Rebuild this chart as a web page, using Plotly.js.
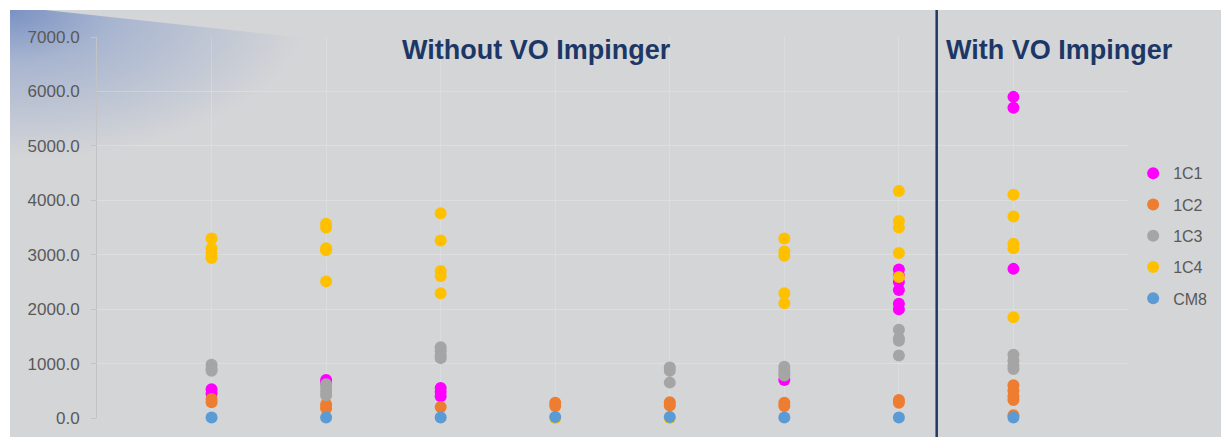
<!DOCTYPE html>
<html>
<head>
<meta charset="utf-8">
<script src="https://cdn.plot.ly/plotly-3.0.1.min.js"></script>
<style>
  html, body { margin:0; padding:0; background:#ffffff; width:1221px; height:437px; overflow:hidden; }
  #frame { position:absolute; left:10px; top:10px; width:1211px; height:427px; background:#d4d5d7; overflow:hidden; }
  #wedge { position:absolute; left:0; top:0; width:300px; height:160px;
    clip-path: polygon(0 0, 35px 0, 295px 28px, 295px 160px, 0 160px);
    background: radial-gradient(ellipse 300px 150px at 0 0, rgba(118,142,194,0.95) 0%, rgba(150,168,205,0.7) 35%, rgba(212,213,215,0) 100%); }
  #chart { position:absolute; left:0; top:0; width:1211px; height:427px; }
</style>
</head>
<body>
<div id="frame"><div id="wedge"></div><div id="chart"></div></div>
<script>
// Categories (8 sample positions; no axis labels shown)
const categories = [1, 2, 3, 4, 5, 6, 7, 8];
const seriesNames = ["1C1", "1C2", "1C3", "1C4", "CM8"];

// Values per category for each series
const v1C1 = [[530, 450], [700, 650], [550, 480, 400], [], [], [700], [2730, 2620, 2500, 2350, 2100, 2000], [5900, 5700, 2740]];
const v1C2 = [[350, 290], [250, 180], [200], [280, 220], [290, 230], [280, 220], [330, 280], [600, 500, 400, 330, 50]];
const v1C3 = [[980, 900, 870], [620, 550, 480, 420], [1300, 1230, 1150, 1100], [], [930, 870, 650], [940, 880, 820, 780], [1620, 1460, 1420, 1150], [1160, 1050, 960, 900]];
const v1C4 = [[3300, 3120, 3020, 2940], [3570, 3500, 3120, 3080, 2510], [3760, 3260, 2700, 2610, 2290], [0], [0], [3300, 3060, 2980, 2290, 2110], [4170, 3620, 3500, 3030, 2590], [4100, 3700, 3200, 3120, 1850]];
const vCM8 = [[10], [10], [10], [20], [20], [10], [10], [10]];

const yTicks = [0, 1000, 2000, 3000, 4000, 5000, 6000, 7000];
const groupTitles = ["Without VO Impinger", "With VO Impinger"];
const groupTitleX = [3.84, 8.40];
const dividerX = 7.33;

const colors = ["#FF00FF", "#ED7D31", "#A5A5A5", "#FFC000", "#5B9BD5"];
const allValues = [v1C1, v1C2, v1C3, v1C4, vCM8];

const traces = allValues.map((vals, i) => {
  const x = [], y = [];
  vals.forEach((arr, c) => arr.forEach(v => { x.push(categories[c]); y.push(v); }));
  return {
    type: "scatter", mode: "markers", name: seriesNames[i],
    x: x, y: y, legendgroup: seriesNames[i],
    marker: { color: colors[i], size: 12 },
    cliponaxis: false, hoverinfo: "x+y"
  };
});

const layout = {
  width: 1211, height: 427,
  paper_bgcolor: "rgba(0,0,0,0)", plot_bgcolor: "rgba(0,0,0,0)",
  margin: { l: 87, r: 93, t: 27, b: 19, autoexpand: false },
  font: { family: "Liberation Sans, Arial, sans-serif", color: "#595959" },
  xaxis: {
    range: [0, 9], tickvals: categories, showticklabels: false,
    showgrid: true, gridcolor: "rgba(255,255,255,0.18)", gridwidth: 1,
    zeroline: false, showline: false, ticks: ""
  },
  yaxis: {
    range: [0, 7000], tickvals: yTicks, tickformat: ".1f",
    tickfont: { size: 17, color: "#595959" },
    showgrid: true, gridcolor: "rgba(255,255,255,0.22)", gridwidth: 1,
    zeroline: false, showline: true, linecolor: "#c2c3c5", linewidth: 1,
    ticks: "outside", ticklen: 5, tickcolor: "#c2c3c5", ticklabelstandoff: 8
  },
  showlegend: true,
  legend: {
    x: 1.005, xanchor: "left", y: 0.687, yanchor: "top",
    font: { size: 16, color: "#595959" },
    bgcolor: "rgba(0,0,0,0)", traceorder: "grouped", tracegroupgap: 7.5,
    itemclick: false
  },
  shapes: [{
    type: "line", xref: "x", yref: "paper", x0: dividerX, x1: dividerX, y0: -0.06, y1: 1.08,
    line: { color: "#1F3864", width: 2.5 }
  }],
  annotations: groupTitles.map((t, i) => ({
    text: t, xref: "x", yref: "paper", x: groupTitleX[i], y: 0.966,
    xanchor: "center", yanchor: "middle", showarrow: false,
    font: { size: 27, color: "#1C3766", family: "Liberation Sans, Arial, sans-serif", weight: "bold" }
  }))
};

Plotly.newPlot("chart", traces, layout, { displayModeBar: false, staticPlot: true });
</script>
</body>
</html>
